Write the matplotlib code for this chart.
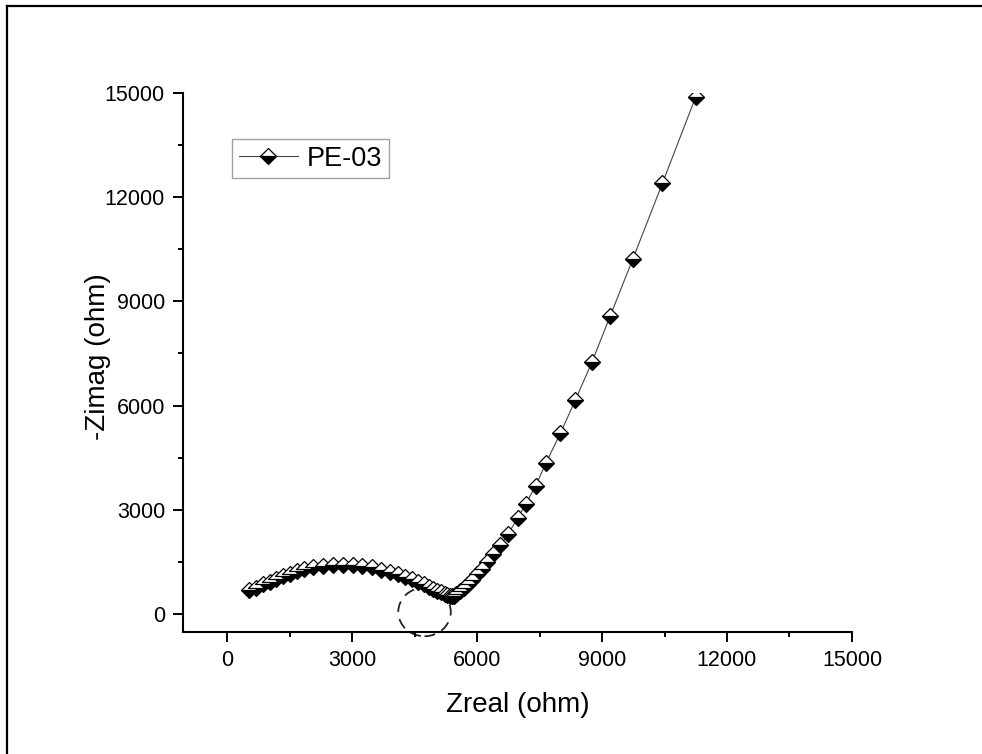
import matplotlib
matplotlib.use("Agg")
import matplotlib.pyplot as plt
from matplotlib.lines import Line2D
from matplotlib.patches import Ellipse

plt.rcParams['font.family'] = ['Liberation Sans', 'DejaVu Sans']

series_name = "PE-03"
z_real = [520, 690, 860, 1020, 1180, 1340, 1500, 1670, 1850, 2060, 2300, 2540,
          2780, 3020, 3250, 3480, 3700, 3910, 4100, 4280, 4440, 4590, 4720, 4840,
          4950, 5050, 5140, 5220, 5290, 5350, 5400, 5440,
          5495, 5590, 5690, 5790, 5885, 5995, 6115, 6240, 6390, 6560, 6750, 6975,
          7170, 7410, 7655, 8000, 8360, 8760, 9200, 9740, 10450, 11250]
z_imag = [680, 760, 850, 935, 1015, 1090, 1160, 1225, 1285, 1340, 1380, 1405,
          1415, 1405, 1380, 1340, 1280, 1215, 1145, 1070, 995, 920, 850, 785,
          725, 670, 620, 580, 550, 530, 520, 525,
          580, 660, 760, 870, 990, 1140, 1310, 1500, 1730, 1980, 2310, 2765,
          3170, 3695, 4350, 5200, 6160, 7255, 8590, 10220, 12400, 14890]

x_ticks = [0, 3000, 6000, 9000, 12000, 15000]
y_ticks = [0, 3000, 6000, 9000, 12000, 15000]

fig = plt.figure(figsize=(9.82, 7.54), dpi=100)
ax = fig.add_axes([0.1864, 0.1618, 0.6812, 0.7149])

ax.plot(z_real, z_imag, color='#444444', lw=0.8, marker='D', markersize=8.2,
        fillstyle='bottom', markerfacecolor='black', markerfacecoloralt='white',
        markeredgecolor='black', markeredgewidth=0.9, label=series_name)

ax.add_patch(Ellipse((4740, 60), 1260, 1400, fill=False, edgecolor='#222222',
                     lw=1.3, linestyle=(0, (6, 4)), clip_on=False, zorder=1))

ax.set_xlim(-1056, 15000)
ax.set_ylim(-518, 15000)
ax.set_xticks(x_ticks)
ax.set_yticks(y_ticks)
ax.set_xticks([1500, 4500, 7500, 10500, 13500], minor=True)
ax.set_yticks([1500, 4500, 7500, 10500, 13500], minor=True)
ax.tick_params(which='major', direction='out', length=7, width=1.4, labelsize=15.5, pad=6)
ax.tick_params(which='minor', direction='out', length=3.5, width=1.4)

for s in ['top', 'right']:
    ax.spines[s].set_visible(False)
for s in ['left', 'bottom']:
    ax.spines[s].set_linewidth(1.5)

ax.set_xlabel("Zreal (ohm)", fontsize=20, labelpad=15)
ax.set_ylabel("-Zimag (ohm)", fontsize=20)
ax.yaxis.set_label_coords(-0.107, 0.51)

leg = ax.legend(loc='upper left', bbox_to_anchor=(0.073, 0.915), borderaxespad=0,
                fontsize=19.5, fancybox=False, frameon=True, handlelength=2.2,
                handletextpad=0.3, borderpad=0.25)
leg.get_frame().set_edgecolor('#888888')
leg.get_frame().set_linewidth(1.0)

fig.add_artist(Line2D([7/982, 7/982], [0, 1 - 6/754], transform=fig.transFigure,
                      color='black', lw=1.6))
fig.add_artist(Line2D([7/982, 1], [1 - 6/754, 1 - 6/754], transform=fig.transFigure,
                      color='black', lw=1.6))

fig.savefig("out.png", dpi=100)
